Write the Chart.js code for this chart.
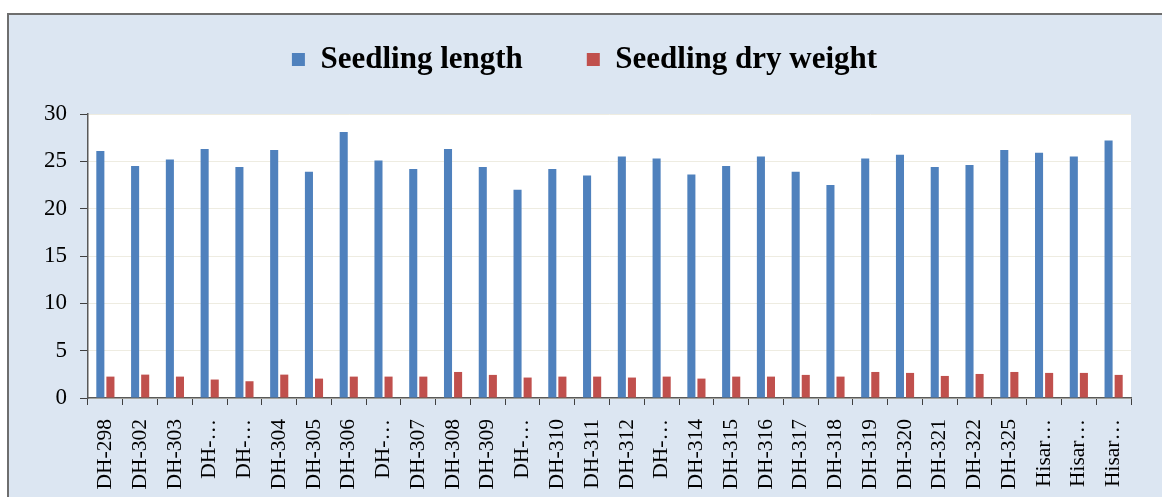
<!DOCTYPE html>
<html>
<head>
<meta charset="utf-8">
<title>Seedling length and dry weight</title>
<script src="https://cdn.jsdelivr.net/npm/chart.js@4.4.1/dist/chart.umd.min.js"></script>
<style>
  body { margin: 0; background: #fff; }
  #wrap { position: absolute; left: 0; top: 0; width: 1162px; height: 497px; }
</style>
</head>
<body>
<div id="wrap"><canvas id="seedChart" width="1162" height="497"></canvas></div>
<script>
const genotypes = ['DH-298', 'DH-302', 'DH-303', 'DH-…', 'DH-…', 'DH-304', 'DH-305', 'DH-306', 'DH-…', 'DH-307',
    'DH-308', 'DH-309', 'DH-…', 'DH-310', 'DH-311', 'DH-312', 'DH-…', 'DH-314', 'DH-315', 'DH-316',
    'DH-317', 'DH-318', 'DH-319', 'DH-320', 'DH-321', 'DH-322', 'DH-325', 'Hisar…', 'Hisar…', 'Hisar…'];
const seedlingLength = [26.1, 24.5, 25.2, 26.3, 24.4, 26.2, 23.9, 28.1, 25.1, 24.2,
    26.3, 24.4, 22.0, 24.2, 23.5, 25.5, 25.3, 23.6, 24.5, 25.5,
    23.9, 22.5, 25.3, 25.7, 24.4, 24.6, 26.2, 25.9, 25.5, 27.2];
const seedlingDryWeight = [2.26, 2.47, 2.26, 1.95, 1.77, 2.47, 2.05, 2.26, 2.26, 2.26,
    2.75, 2.44, 2.16, 2.26, 2.26, 2.16, 2.26, 2.05, 2.26, 2.26,
    2.44, 2.26, 2.75, 2.65, 2.33, 2.54, 2.75, 2.65, 2.65, 2.44];
const yTicks = [0, 5, 10, 15, 20, 25, 30];

const serif = "'Liberation Serif', 'Times New Roman', serif";

// panel background, border and white plot area
const panelBg = {
    id: 'panelBg',
    beforeDraw(chart) {
        const ctx = chart.ctx;
        const a = chart.chartArea;
        ctx.save();
        ctx.fillStyle = '#ffffff';
        ctx.fillRect(0, 0, chart.width, chart.height);
        ctx.fillStyle = '#dce6f2';
        ctx.fillRect(8, 14, chart.width - 8, chart.height - 14);
        ctx.strokeStyle = '#6e6e6e';
        ctx.lineWidth = 2;
        ctx.beginPath();
        ctx.moveTo(8, chart.height);
        ctx.lineTo(8, 14);
        ctx.lineTo(chart.width, 14);
        ctx.stroke();
        ctx.fillStyle = '#ffffff';
        ctx.fillRect(a.left, a.top, a.right - a.left, a.bottom - a.top);
        ctx.restore();
    }
};

// fixed legend height so the plot starts where it does in the picture,
// and nudge the legend a little to the right like the original
const legendPlace = {
    id: 'legendPlace',
    beforeInit(chart) {
        const fit = chart.legend.fit;
        chart.legend.fit = function () {
            fit.bind(chart.legend)();
            this.height = 134;
        };
    },
    afterLayout(chart) {
        chart.legend.left += 19;
        chart.legend.right += 19;
    }
};

const ctx = document.getElementById('seedChart').getContext('2d');
const chart = new Chart(ctx, {
    type: 'bar',
    data: {
        labels: genotypes,
        datasets: [{
            label: 'Seedling length',
            data: seedlingLength,
            backgroundColor: '#4f81bd',
            categoryPercentage: 0.58,
            barPercentage: 0.8
        },
        {
            label: 'Seedling dry weight',
            data: seedlingDryWeight,
            backgroundColor: '#c0504d',
            categoryPercentage: 0.58,
            barPercentage: 0.8
        }]
    },
    options: {
        responsive: false,
        animation: false,
        devicePixelRatio: 1,
        layout: { padding: { left: 0, right: 31, top: -20, bottom: 0 } },
        plugins: {
            legend: {
                position: 'top',
                labels: {
                    boxWidth: 13,
                    boxHeight: 13,
                    padding: 64,
                    color: '#000',
                    font: { family: serif, size: 31, weight: 'bold' }
                }
            },
            tooltip: { enabled: false }
        },
        scales: {
            x: {
                afterFit(scale) { scale.height = 99; },
                border: { color: '#595959', width: 1.5 },
                grid: {
                    drawOnChartArea: false,
                    drawTicks: true,
                    tickLength: 7,
                    tickColor: '#404040',
                    offset: true
                },
                ticks: {
                    autoSkip: false,
                    minRotation: 90,
                    maxRotation: 90,
                    padding: 14,
                    color: '#000',
                    font: { family: serif, size: 21.5 }
                }
            },
            y: {
                min: 0,
                max: 30,
                afterFit(scale) { scale.width = 88; },
                afterBuildTicks(scale) { scale.ticks = yTicks.map(v => ({ value: v })); },
                border: { color: '#595959', width: 1.5 },
                grid: {
                    color: '#eeece1',
                    tickColor: '#404040',
                    tickLength: 8
                },
                ticks: {
                    padding: 13,
                    color: '#000',
                    font: { family: serif, size: 23 }
                }
            }
        }
    },
    plugins: [panelBg, legendPlace]
});
</script>
</body>
</html>
